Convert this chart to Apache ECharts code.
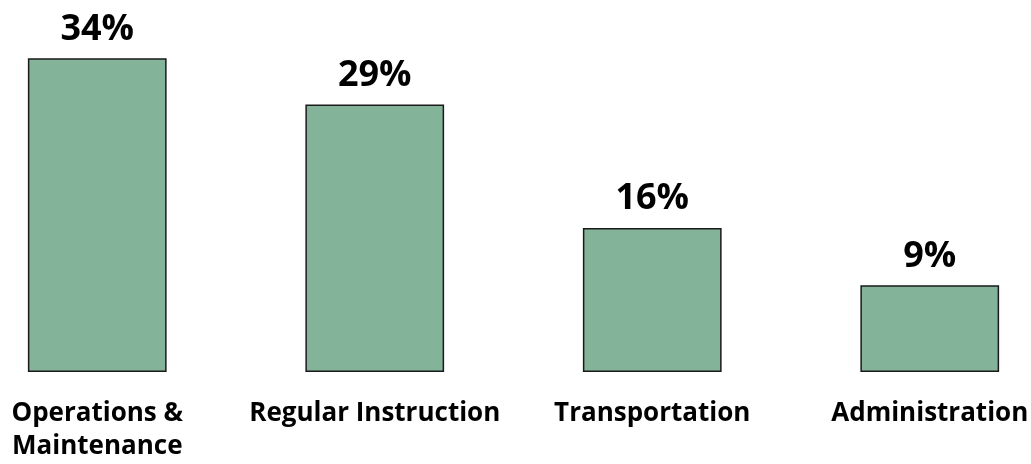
<!DOCTYPE html>
<html><head><meta charset="utf-8">
<script src="https://cdn.jsdelivr.net/npm/echarts@6/dist/echarts.min.js"></script>
<style>html,body{margin:0;padding:0;background:#fff}#c{width:1031px;height:464px}</style>
</head><body><div id="c"></div>
<script>
const categories = ["Operations &\nMaintenance", "Regular Instruction", "Transportation", "Administration"];
const values = [34, 29, 15.6, 9.4];
const valueLabels = ["34%", "29%", "16%", "9%"];

const chart = echarts.init(document.getElementById('c'));
chart.setOption({
  animation: false,
  grid: { left: -41.5, width: 1110, top: 3, bottom: 92, outerBoundsMode: 'none', containLabel: false },
  xAxis: {
    type: 'category', data: categories,
    axisLine: { show: false }, axisTick: { show: false },
    axisLabel: { interval: 0, margin: 25, fontFamily: 'Open Sans', fontWeight: 'bold', fontSize: 26, color: '#000', lineHeight: 33 }
  },
  yAxis: { type: 'value', min: 0, max: 40, show: false, splitLine: { show: false } },
  series: [{
    type: 'bar', data: values, barWidth: '50%',
    itemStyle: { color: '#83b49a', borderColor: '#1a1a1a', borderWidth: 1.5 },
    label: {
      show: true, position: 'top', distance: 11,
      formatter: p => valueLabels[p.dataIndex],
      fontFamily: 'Open Sans', fontWeight: 'bold', fontSize: 36, color: '#000'
    }
  }]
});
</script></body></html>
